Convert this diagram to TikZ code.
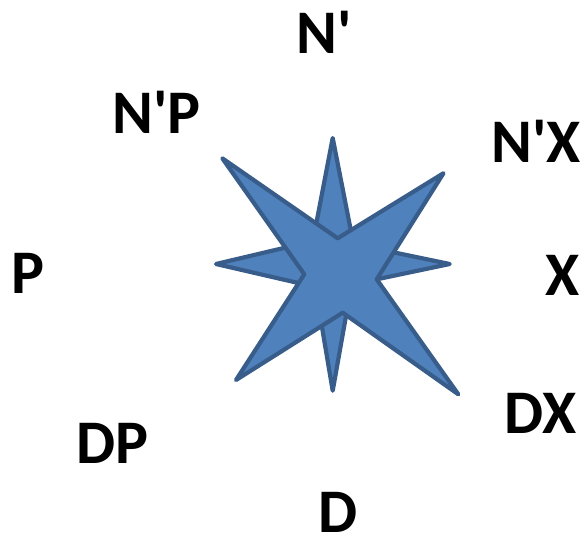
\documentclass[tikz,border=0pt]{standalone}
\usepackage{fontspec}
\setmainfont{Carlito}
\usetikzlibrary{positioning}
\definecolor{sfill}{HTML}{4F81BD}
\definecolor{sline}{HTML}{385D8A}
\tikzset{
  every picture/.style={x=1pt, y=-1pt},
  dirlabel/.style={font=\bfseries\fontsize{62}{62}\selectfont, anchor=base, inner sep=0pt, text depth=0pt},
  star/.style={draw=sline, fill=sfill, line width=4.2pt, line join=round},
}
\newcommand{\apos}{\textquotesingle}
\begin{document}
\begin{tikzpicture}
  \useasboundingbox (0,0) rectangle (584,538);
  % thin four-point star
  \draw[star] (332.7,138) -- (353.5,244) -- (449.7,264) -- (351.6,284.6)
    -- (332.7,390.7) -- (315.2,286.9) -- (216,264) -- (312.9,241.1) -- cycle;
  % wide four-point star on top
  \draw[star] (222.3,158.3) -- (337.7,238.3) -- (443.5,173.2) -- (376.7,279.3)
    -- (458.3,394.3) -- (342.7,312.7) -- (236,380) -- (304.3,274.3) -- cycle;
  % direction labels
  \node[dirlabel] (np)  at (324,53)    {N\apos};
  \node[dirlabel] (npp) at (156.4,133) {N\apos P};
  \node[dirlabel] (npx) at (536.4,162) {N\apos X};
  \node[dirlabel] (x)   at (562.5,295) {X};
  \node[dirlabel] (dx)  at (540.5,433) {DX};
  \node[dirlabel] (d)   at (338.4,532) {D};
  \node[dirlabel] (dp)  at (112.5,463) {DP};
  \node[dirlabel] (p)   at (27.5,293)  {P};
\end{tikzpicture}
\end{document}
